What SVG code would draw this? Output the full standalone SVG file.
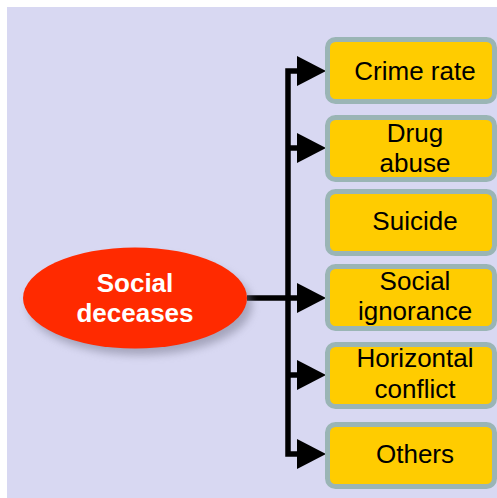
<svg xmlns="http://www.w3.org/2000/svg" width="497" height="498" viewBox="0 0 497 498">
<style>
.box{fill:#ffcc00;stroke:#9ab5b5;stroke-width:5}
.bt{font-family:"Liberation Sans",Arial,sans-serif;font-size:26px;fill:#000;text-anchor:middle}
.et{font-family:"Liberation Sans",Arial,sans-serif;font-size:26px;font-weight:bold;fill:#fff;text-anchor:middle}
.cn{fill:none;stroke:#000;stroke-width:5.5;stroke-linejoin:miter;marker-end:url(#ah)}
</style>
<defs>
<marker id="ah" viewBox="0 0 29 30" refX="1" refY="15" markerWidth="29" markerHeight="30" markerUnits="userSpaceOnUse" orient="auto">
<path d="M0,0 L29,15 L0,30 z" fill="#000"/>
</marker>
<filter id="sh" x="-20%" y="-30%" width="150%" height="170%">
<feGaussianBlur stdDeviation="4"/>
</filter>
</defs>
<rect x="7" y="7" width="490" height="491" fill="#d8d8f2"/>
<g id="connectors">
<path class="cn" d="M288,298 V71 H298"/>
<path class="cn" d="M288,148 H298"/>
<path class="cn" d="M247,298 H298"/>
<path class="cn" d="M288,375 H298"/>
<path class="cn" d="M288,298 V454 H298"/>
</g>
<g id="social-deceases">
<ellipse cx="140" cy="305" rx="112" ry="50" fill="#7a7a90" opacity="0.55" filter="url(#sh)"/>
<ellipse cx="135" cy="298" rx="112" ry="50.5" fill="#ff2a00"/>
<text class="et" x="135" y="292">Social</text>
<text class="et" x="135" y="322">deceases</text>
</g>
<g id="crime-rate">
<rect class="box" x="327.5" y="39.5" width="167" height="62" rx="8"/>
<text class="bt" x="415" y="80">Crime rate</text>
</g>
<g id="drug-abuse">
<rect class="box" x="327.5" y="117.5" width="167" height="62" rx="8"/>
<text class="bt" x="415" y="142">Drug</text>
<text class="bt" x="415" y="172">abuse</text>
</g>
<g id="suicide">
<rect class="box" x="327.5" y="191.5" width="167" height="62" rx="8"/>
<text class="bt" x="415" y="230">Suicide</text>
</g>
<g id="social-ignorance">
<rect class="box" x="327.5" y="266.5" width="167" height="62" rx="8"/>
<text class="bt" x="415" y="290">Social</text>
<text class="bt" x="415" y="320">ignorance</text>
</g>
<g id="horizontal-conflict">
<rect class="box" x="327.5" y="344.5" width="167" height="62" rx="8"/>
<text class="bt" x="415" y="367">Horizontal</text>
<text class="bt" x="415" y="398">conflict</text>
</g>
<g id="others">
<rect class="box" x="327.5" y="424.5" width="167" height="62" rx="8"/>
<text class="bt" x="415" y="463">Others</text>
</g>
</svg>
